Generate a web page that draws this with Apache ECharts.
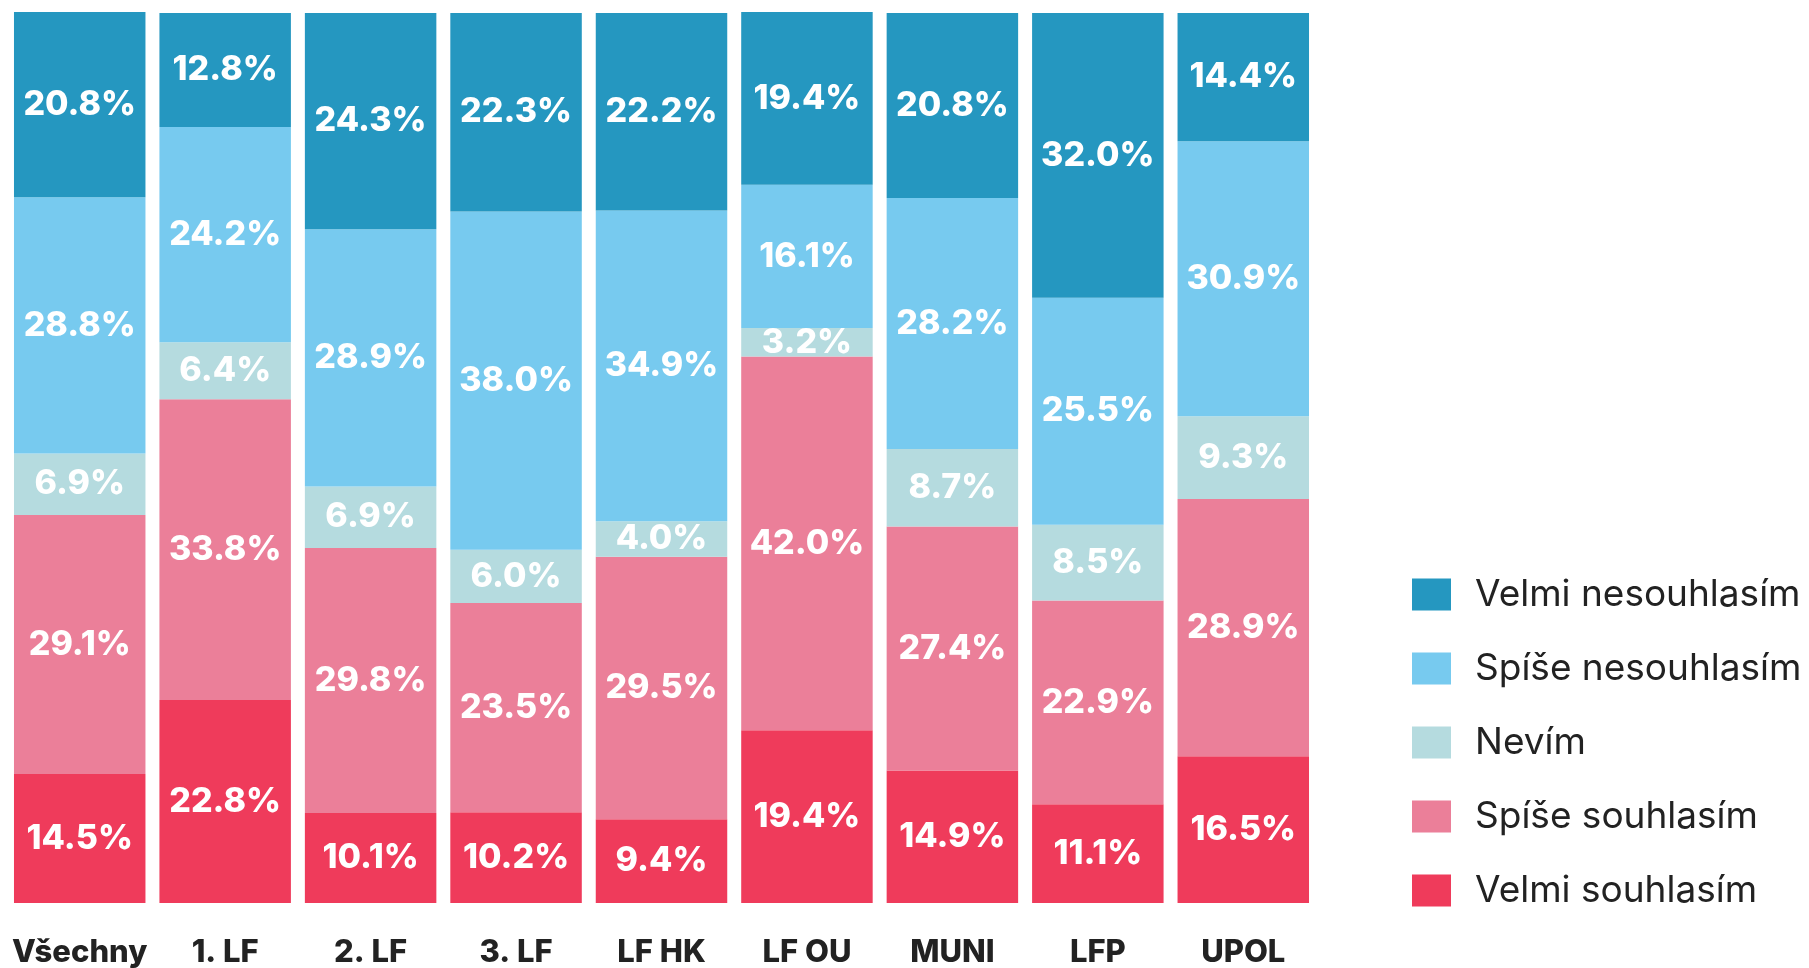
<!DOCTYPE html>
<html>
<head>
<meta charset="utf-8">
<script src="https://cdn.jsdelivr.net/npm/echarts@6/dist/echarts.min.js"></script>
<style>
  html, body { margin: 0; padding: 0; background: #fff; }
  #chart { width: 1809px; height: 968px; }
</style>
</head>
<body>
<div id="chart"></div>
<script>
// 分类
const categories = ['Všechny', '1. LF', '2. LF', '3. LF', 'LF HK', 'LF OU', 'MUNI', 'LFP', 'UPOL']

// 各系列数值 (%)
const velmiSouhlasim = [14.5, 22.8, 10.1, 10.2, 9.4, 19.4, 14.9, 11.1, 16.5]
const spiseSouhlasim = [29.1, 33.8, 29.8, 23.5, 29.5, 42.0, 27.4, 22.9, 28.9]
const nevim = [6.9, 6.4, 6.9, 6.0, 4.0, 3.2, 8.7, 8.5, 9.3]
const spiseNesouhlasim = [28.8, 24.2, 28.9, 38.0, 34.9, 16.1, 28.2, 25.5, 30.9]
const velmiNesouhlasim = [20.8, 12.8, 24.3, 22.3, 22.2, 19.4, 20.8, 32.0, 14.4]

const legendOrder = ['Velmi nesouhlasím', 'Spíše nesouhlasím', 'Nevím', 'Spíše souhlasím', 'Velmi souhlasím']

// 从下往上堆叠
const seriesDefs = [
  { name: 'Velmi souhlasím', data: velmiSouhlasim, color: '#ef3b5b' },
  { name: 'Spíše souhlasím', data: spiseSouhlasim, color: '#eb7f99' },
  { name: 'Nevím', data: nevim, color: '#b5dbdf' },
  { name: 'Spíše nesouhlasím', data: spiseNesouhlasim, color: '#77caef' },
  { name: 'Velmi nesouhlasím', data: velmiNesouhlasim, color: '#2597c0' },
]

const chart = echarts.init(document.getElementById('chart'))

chart.setOption({
  animation: false,
  grid: { left: 7, right: 493, top: 13, bottom: 64 },
  legend: {
    data: legendOrder,
    orient: 'vertical',
    left: 1407,
    top: 571,
    itemWidth: 39,
    itemHeight: 32,
    itemGap: 37,
    icon: 'rect',
    textStyle: {
      fontFamily: 'Inter',
      fontSize: 37,
      color: '#222',
      padding: [0, 0, 0, 19],
    },
  },
  xAxis: {
    type: 'category',
    data: categories,
    axisLine: { show: false },
    axisTick: { show: false },
    axisLabel: {
      interval: 0,
      margin: 34,
      fontFamily: 'Inter',
      fontWeight: 800,
      fontSize: 31,
      color: '#222',
    },
  },
  yAxis: {
    type: 'value',
    min: 0,
    max: 100,
    show: false,
    splitLine: { show: false },
  },
  series: seriesDefs.map((s) => ({
    name: s.name,
    type: 'bar',
    stack: 'total',
    barCategoryGap: '9.6%',
    clip: false,
    itemStyle: { color: s.color },
    label: {
      show: true,
      position: 'inside',
      formatter: (p) => p.value.toFixed(1) + '%',
      fontFamily: 'Inter',
      fontWeight: 800,
      fontSize: 34,
      color: '#fff',
    },
    data: s.data,
  })),
})
</script>
</body>
</html>
